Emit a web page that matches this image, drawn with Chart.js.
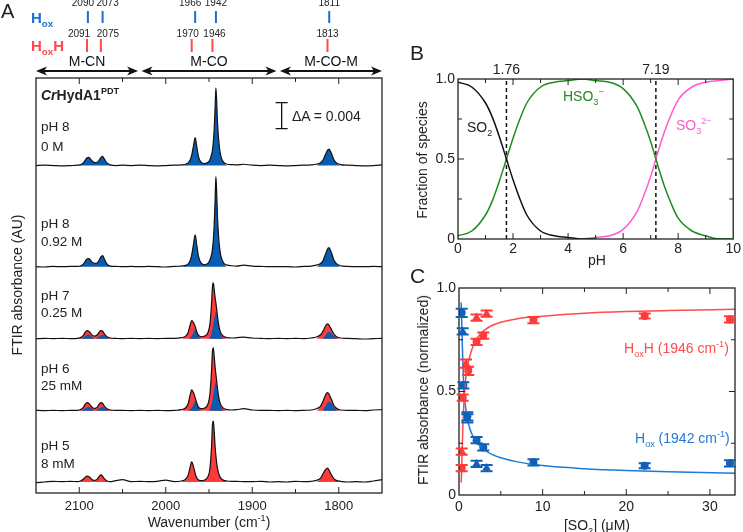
<!DOCTYPE html>
<html>
<head>
<meta charset="utf-8">
<script src="https://cdn.jsdelivr.net/npm/chart.js@4.4.0/dist/chart.umd.min.js"></script>
<style>
  body { margin: 0; background: #fff; width: 743px; height: 532px; position: relative; overflow: hidden;
         font-family: "Liberation Sans", Arial, sans-serif; color: #222; }
  canvas { position: absolute; }
  .lbl { position: absolute; white-space: nowrap; line-height: 1; }
  .lbl sub, .lbl sup { font-size: 65%; line-height: 0; }
  .rot { position: absolute; white-space: nowrap; line-height: 1; transform: translate(-50%, -50%) rotate(-90deg); }
</style>
</head>
<body>
<canvas id="chartA" width="392" height="532" style="left:0;top:0"></canvas>
<canvas id="chartB" width="351" height="270" style="left:392px;top:0"></canvas>
<canvas id="chartC" width="351" height="270" style="left:392px;top:262px"></canvas>

<div class="lbl" style="left:1px;top:1px;font-size:20px">A</div>
<div class="lbl" style="left:31px;top:10px;font-size:15px;font-weight:bold;color:#1a6fd0">H<sub>ox</sub></div>
<div class="lbl" style="left:31px;top:38px;font-size:15px;font-weight:bold;color:#ff4848">H<sub>ox</sub>H</div>
<div class="lbl" style="left:41px;top:88px;font-size:14px;font-weight:bold"><i>Cr</i>HydA1<sup>PDT</sup></div>
<div class="lbl" style="left:292px;top:109px;font-size:14px">ΔA = 0.004</div>
<div class="lbl" style="left:41px;top:120px;font-size:13.5px">pH 8</div>
<div class="lbl" style="left:41px;top:140px;font-size:13.5px">0 M</div>
<div class="lbl" style="left:41px;top:217px;font-size:13.5px">pH 8</div>
<div class="lbl" style="left:41px;top:235px;font-size:13.5px">0.92 M</div>
<div class="lbl" style="left:41px;top:289px;font-size:13.5px">pH 7</div>
<div class="lbl" style="left:41px;top:306px;font-size:13.5px">0.25 M</div>
<div class="lbl" style="left:41px;top:362px;font-size:13.5px">pH 6</div>
<div class="lbl" style="left:41px;top:379px;font-size:13.5px">25 mM</div>
<div class="lbl" style="left:41px;top:439px;font-size:13.5px">pH 5</div>
<div class="lbl" style="left:41px;top:457px;font-size:13.5px">8 mM</div>
<div class="rot" style="left:17px;top:285px;font-size:14px">FTIR absorbance (AU)</div>
<div class="lbl" style="left:209px;top:515px;font-size:14px;transform:translateX(-50%)">Wavenumber (cm<sup>-1</sup>)</div>

<div class="lbl" style="left:410px;top:42px;font-size:21px">B</div>
<div class="rot" style="left:422px;top:160px;font-size:14px">Fraction of species</div>
<div class="lbl" style="left:597px;top:253px;font-size:14px;transform:translateX(-50%)">pH</div>
<div class="lbl" style="left:467px;top:120px;font-size:14px">SO<sub>2</sub></div>
<div class="lbl" style="left:563px;top:89px;font-size:14px;color:#1e8c1e">HSO<sub>3</sub><sup>−</sup></div>
<div class="lbl" style="left:676px;top:118px;font-size:14px;color:#ff5ad2">SO<sub>3</sub><sup>2−</sup></div>

<div class="lbl" style="left:410px;top:265px;font-size:21px">C</div>
<div class="rot" style="left:423px;top:390px;font-size:14px">FTIR absorbance (normalized)</div>
<div class="lbl" style="left:597px;top:518px;font-size:14px;transform:translateX(-50%)">[SO<sub>2</sub>] (μM)</div>
<div class="lbl" style="left:624px;top:341px;font-size:14px;color:#ff4a4a">H<sub>ox</sub>H (1946 cm<sup>-1</sup>)</div>
<div class="lbl" style="left:635px;top:431px;font-size:14px;color:#1f7ad6">H<sub>ox</sub> (1942 cm<sup>-1</sup>)</div>

<script>
// ---------- Panel A: FTIR spectra (absorbance in mAU above each baseline) ----------
const wavenumbers = [2150, 2140, 2130, 2120, 2110, 2102, 2098, 2095, 2093, 2091, 2089, 2087, 2085, 2082,
  2079, 2077, 2075, 2073, 2071, 2068, 2064, 2058, 2050, 2040, 2030, 2020, 2010, 2000, 1990, 1982,
  1977, 1974, 1972, 1970, 1968, 1966, 1964, 1962, 1959, 1955, 1951, 1949, 1947, 1946, 1945, 1944, 1943, 1942, 1941, 1940,
  1938, 1936, 1933, 1929, 1924, 1918, 1910, 1900, 1890, 1880, 1870, 1860, 1850, 1840, 1832, 1826, 1821, 1818, 1816, 1814,
  1813, 1812, 1811, 1810, 1808, 1806, 1803, 1798, 1790, 1780, 1770, 1760, 1750];

const specPH8_0M = [0, 0.05, 0, -0.05, 0, 0.05, 0.15, 0.45, 0.85, 1.2, 1.25, 1.0, 0.7, 0.45,
  0.5, 0.8, 1.2, 1.4, 1.0, 0.4, 0.1, 0, 0.05, 0, 0.05, 0, -0.05, 0, 0.05, 0.1,
  0.2, 0.4, 0.8, 1.6, 3.0, 4.3, 2.8, 1.3, 0.5, 0.3, 0.5, 0.9, 1.7, 2.4, 3.6, 5.6, 8.8, 12.0, 9.5, 6.2,
  2.8, 1.3, 0.5, 0.2, 0.15, 0.1, 0.2, 0.05, 0, 0.05, 0, -0.05, 0, 0.05, 0.1, 0.2, 0.45, 0.9, 1.5, 2.1,
  2.35, 2.5, 2.5, 2.3, 1.7, 1.0, 0.45, 0.15, 0.05, 0, -0.05, 0, 0.1];
const specPH8_092M = [0, -0.05, 0.05, 0, 0.05, 0.05, 0.15, 0.45, 0.85, 1.2, 1.25, 1.0, 0.7, 0.5,
  0.6, 1.0, 1.5, 1.7, 1.2, 0.45, 0.1, 0.05, 0, 0.05, 0, 0.05, 0, -0.05, 0.05, 0.1,
  0.2, 0.45, 0.9, 1.8, 3.4, 4.9, 3.2, 1.5, 0.55, 0.3, 0.55, 1.0, 1.9, 2.7, 4.1, 6.4, 10.1, 13.9, 11.0, 7.1,
  3.2, 1.5, 0.55, 0.25, 0.15, 0.1, 0.25, 0.1, 0.05, 0, 0, 0, -0.05, 0.05, 0.1, 0.25, 0.5, 1.0, 1.7, 2.4,
  2.7, 2.9, 2.9, 2.65, 2.0, 1.15, 0.5, 0.15, 0.05, 0, 0, 0.05, 0];
const specPH7 = [0, 0.05, 0, 0.05, 0, 0.05, 0.2, 0.55, 1.0, 1.25, 1.15, 0.85, 0.55, 0.4,
  0.6, 1.0, 1.25, 1.15, 0.75, 0.3, 0.1, 0.05, 0, 0.05, 0, 0.05, 0, 0.05, 0.05, 0.15,
  0.4, 1.0, 2.0, 2.8, 2.5, 1.9, 1.0, 0.5, 0.3, 0.4, 1.0, 2.2, 5.5, 8.0, 8.6, 7.6, 6.4, 5.5, 4.4, 3.2,
  1.6, 0.8, 0.35, 0.15, 0.1, 0.15, 0.25, 0.1, 0.05, 0, 0.05, 0, 0.05, 0, 0.1, 0.25, 0.6, 1.2, 1.8, 2.2,
  2.3, 2.2, 2.0, 1.8, 1.3, 0.8, 0.35, 0.1, 0.05, 0, -0.05, 0, 0.05];
const specPH6 = [0.05, 0, 0.05, 0, 0.05, 0.05, 0.2, 0.55, 1.0, 1.25, 1.15, 0.8, 0.5, 0.35,
  0.55, 1.0, 1.25, 1.1, 0.7, 0.3, 0.1, 0.05, 0.05, 0, 0.05, 0, 0.05, 0, 0.05, 0.15,
  0.45, 1.1, 2.3, 3.2, 2.8, 2.0, 1.1, 0.5, 0.3, 0.4, 1.1, 2.5, 6.3, 9.2, 9.7, 8.4, 6.8, 5.6, 4.4, 3.2,
  1.6, 0.8, 0.35, 0.15, 0.1, 0.15, 0.3, 0.1, 0.05, 0.05, 0, 0.05, 0, 0.05, 0.1, 0.3, 0.7, 1.5, 2.2, 2.7,
  2.8, 2.7, 2.5, 2.2, 1.6, 0.9, 0.4, 0.1, 0.05, 0.05, 0, 0.1, 0.15];
const specPH5 = [-0.1, 0, 0.1, 0.05, 0.1, 0.05, 0.2, 0.45, 0.75, 0.9, 0.85, 0.6, 0.35, 0.25,
  0.45, 0.85, 1.1, 0.9, 0.5, 0.15, 0.05, 0.2, 0.35, 0.05, 0.1, 0.05, 0.1, 0.3, 0.05, 0.15,
  0.45, 1.1, 2.2, 3.1, 2.4, 1.3, 0.6, 0.3, 0.2, 0.3, 0.9, 2.0, 5.6, 8.8, 9.4, 7.8, 5.6, 4.0, 2.8, 2.0,
  1.0, 0.55, 0.25, 0.15, 0.1, 0.1, 0.05, 0.05, 0.1, 0, 0.05, 0, 0.1, 0.05, 0.1, 0.25, 0.6, 1.3, 1.8, 2.1,
  2.15, 2.0, 1.8, 1.5, 1.0, 0.55, 0.25, 0.1, 0, 0.05, 0, 0.15, 0.35];

// Hox component inside the mixed spectra (pH 7 and pH 6), [wavenumber, mAU]
const hoxPartPH7 = [[2098, 0], [2094, 0.3], [2091, 0.55], [2089, 0.6], [2087, 0.45], [2084, 0.15], [2081, 0],
  [2078, 0.25], [2075, 0.5], [2073, 0.6], [2071, 0.45], [2068, 0.15], [2065, 0],
  [1974, 0], [1970, 0.4], [1968, 0.9], [1966, 1.4], [1964, 0.8], [1962, 0.3], [1959, 0],
  [1950, 0], [1946, 1.5], [1944, 3.0], [1942, 4.2], [1940, 2.8], [1938, 1.3], [1935, 0.3], [1932, 0],
  [1819, 0], [1816, 0.4], [1813, 0.9], [1811, 1.1], [1809, 0.9], [1806, 0.45], [1802, 0]];
const hoxPartPH6 = [[2098, 0], [2094, 0.3], [2091, 0.5], [2089, 0.55], [2087, 0.4], [2084, 0.15], [2081, 0],
  [2078, 0.25], [2075, 0.5], [2073, 0.55], [2071, 0.4], [2068, 0.15], [2065, 0],
  [1974, 0], [1970, 0.4], [1968, 0.9], [1966, 1.5], [1964, 0.9], [1962, 0.35], [1959, 0],
  [1950, 0], [1946, 1.6], [1944, 3.4], [1942, 4.5], [1940, 3.0], [1938, 1.4], [1935, 0.3], [1932, 0],
  [1819, 0], [1816, 0.6], [1813, 1.2], [1811, 1.5], [1809, 1.2], [1806, 0.6], [1802, 0]];

const peakWindows = [[2099, 2082], [2082, 2064], [1978, 1957], [1956, 1930], [1823, 1801]];
const hoxBands = [2090, 2073, 1966, 1942, 1811];
const hoxhBands = [2091, 2075, 1970, 1946, 1813];
const bandGroups = [["M-CN", 2150, 2032], ["M-CO", 2028, 1872], ["M-CO-M", 1868, 1750]];

// ---------- Panel B: sulfite speciation ----------
const pKa = [1.76, 7.19];
const pHso2 = [0, 0.5, 1, 1.25, 1.5, 1.76, 2, 2.25, 2.5, 3, 3.5, 4, 4.5, 5];
const fracSO2 = [0.98, 0.95, 0.85, 0.76, 0.64, 0.5, 0.37, 0.25, 0.15, 0.05, 0.02, 0.01, 0, 0];
const pHhso3 = [0, 0.5, 1, 1.25, 1.5, 1.76, 2, 2.25, 2.5, 3, 3.5, 4, 4.5, 5, 5.5, 6, 6.5, 6.75, 7, 7.19, 7.5, 7.75, 8, 8.5, 9, 9.5, 10];
const fracHSO3 = [0.02, 0.05, 0.15, 0.24, 0.36, 0.5, 0.63, 0.75, 0.85, 0.95, 0.98, 0.99, 1.0, 0.99, 0.98, 0.94, 0.83, 0.73, 0.61, 0.5, 0.33, 0.22, 0.13, 0.05, 0.02, 0, 0];
const pHso3 = [4.5, 5, 5.5, 6, 6.5, 6.75, 7, 7.19, 7.5, 7.75, 8, 8.5, 9, 9.5, 10];
const fracSO3 = [0, 0.01, 0.02, 0.06, 0.17, 0.27, 0.39, 0.5, 0.67, 0.78, 0.87, 0.95, 0.98, 0.99, 1.0];

// ---------- Panel C: titration with SO2 ----------
const hoxhCircX = [0.32, 0.44, 1.1, 2.1, 2.9, 8.9, 22.2, 32.4];
const hoxhCircY = [0.13, 0.47, 0.60, 0.74, 0.77, 0.845, 0.865, 0.848];
const hoxhCircErr = [0.015, 0.015, 0.02, 0.015, 0.015, 0.015, 0.012, 0.015];
const hoxhTriX = [0.32, 0.84, 2.1, 3.3];
const hoxhTriY = [0.21, 0.635, 0.857, 0.876];
const hoxhTriErr = [0.015, 0.02, 0.015, 0.015];
const hoxCircX = [0.32, 0.52, 1.0, 2.1, 2.9, 8.9, 22.2, 32.4];
const hoxCircY = [0.88, 0.53, 0.38, 0.265, 0.23, 0.158, 0.141, 0.153];
const hoxCircErr = [0.02, 0.015, 0.02, 0.015, 0.015, 0.015, 0.012, 0.015];
const hoxTriX = [0.44, 1.0, 2.1, 3.3];
const hoxTriY = [0.79, 0.37, 0.15, 0.13];
const hoxTriErr = [0.015, 0.02, 0.015, 0.015];
const fitX = [0.25, 0.3, 0.4, 0.5, 0.6, 0.8, 1.0, 1.3, 1.6, 2, 2.5, 3, 4, 5, 7, 10, 15, 20, 25, 33];
const fitHoxH = [0.06, 0.1, 0.25, 0.37, 0.46, 0.56, 0.62, 0.67, 0.71, 0.745, 0.775, 0.795, 0.82, 0.835, 0.852, 0.864, 0.878, 0.886, 0.891, 0.897];
const fitHox = [0.93, 0.88, 0.72, 0.6, 0.5, 0.42, 0.37, 0.32, 0.29, 0.265, 0.24, 0.22, 0.195, 0.18, 0.16, 0.142, 0.127, 0.118, 0.112, 0.105];

const BLUE = "rgb(8,92,178)";
const RED = "rgb(255,58,58)";
const INK = "#222";
const FONT = '"Liberation Sans", Arial, sans-serif';

// draws the closed frame with inward ticks on all sides
const frameTicks = {
  id: "frameTicks",
  afterDatasetsDraw(chart, args, opts) {
    const { ctx, chartArea: a, scales } = chart;
    ctx.save();
    ctx.strokeStyle = INK;
    ctx.lineWidth = 1.3;
    ctx.strokeRect(a.left, a.top, a.width, a.height);
    ctx.lineWidth = 1;
    const xs = scales.x;
    xs.ticks.forEach((t) => {
      const px = xs.getPixelForValue(t.value);
      if (px < a.left + 2 || px > a.right - 2) return;
      const len = opts.xMajor(t.value) ? 6 : 4;
      ctx.beginPath();
      ctx.moveTo(px, a.bottom); ctx.lineTo(px, a.bottom - len);
      ctx.moveTo(px, a.top); ctx.lineTo(px, a.top + len);
      ctx.stroke();
    });
    if (opts.yTicks) {
      const ys = scales.y;
      ys.ticks.forEach((t) => {
        const py = ys.getPixelForValue(t.value);
        if (py < a.top + 2 || py > a.bottom - 2) return;
        const len = opts.yMajor(t.value) ? 6 : 4;
        ctx.beginPath();
        ctx.moveTo(a.left, py); ctx.lineTo(a.left + len, py);
        ctx.moveTo(a.right, py); ctx.lineTo(a.right - len, py);
        ctx.stroke();
      });
    }
    ctx.restore();
  },
};

// ---------- Chart A ----------
const spectra = [
  { data: specPH8_0M, base: 50.5, red: false, hox: null },
  { data: specPH8_092M, base: 34.9, red: false, hox: null },
  { data: specPH7, base: 23.8, red: true, hox: hoxPartPH7 },
  { data: specPH6, base: 12.7, red: true, hox: hoxPartPH6 },
  { data: specPH5, base: 1.7, red: true, hox: [] },
];

function inWindow(x) {
  return peakWindows.some((w) => x <= w[0] && x >= w[1]);
}

const datasetsA = [];
spectra.forEach((s) => {
  datasetsA.push({
    data: wavenumbers.map((x, j) => ({ x, y: s.base + s.data[j] })),
    borderColor: "#111", borderWidth: 1.2, pointRadius: 0, fill: false,
    cubicInterpolationMode: "monotone", order: 0,
  });
  const bandFill = wavenumbers.map((x, j) => ({ x, y: s.base + (inWindow(x) ? Math.max(s.data[j], 0) : 0) }));
  if (s.red) {
    datasetsA.push({
      data: bandFill, borderWidth: 0, pointRadius: 0, backgroundColor: RED,
      fill: { value: s.base }, cubicInterpolationMode: "monotone", order: 2,
    });
  }
  const hoxData = s.hox === null ? bandFill : s.hox.map((p) => ({ x: p[0], y: s.base + p[1] }));
  if (hoxData.length) {
    datasetsA.push({
      data: hoxData, borderWidth: 0, pointRadius: 0, backgroundColor: BLUE,
      fill: { value: s.base }, cubicInterpolationMode: "monotone", order: 1,
    });
  }
});

const annotA = {
  id: "annotA",
  afterDraw(chart) {
    const { ctx, chartArea: a, scales: { x, y } } = chart;
    ctx.save();
    ctx.lineWidth = 2;
    ctx.font = "10px " + FONT;
    ctx.fillStyle = INK;
    ctx.textAlign = "center";
    ctx.textBaseline = "middle";
    const hoxShift = [-5, 5, -5, 0, 0];
    const hoxhShift = [-8, 7, -4, 2, 0];
    hoxBands.forEach((b, i) => {
      const px = x.getPixelForValue(b);
      ctx.strokeStyle = "#1a6fd0";
      ctx.beginPath(); ctx.moveTo(px, 11); ctx.lineTo(px, 23); ctx.stroke();
      ctx.fillText(String(b), px + hoxShift[i], 3);
    });
    hoxhBands.forEach((b, i) => {
      const px = x.getPixelForValue(b);
      ctx.strokeStyle = "#ff4848";
      ctx.beginPath(); ctx.moveTo(px, 39); ctx.lineTo(px, 52); ctx.stroke();
      ctx.fillText(String(b), px + hoxhShift[i], 34);
    });
    // double arrows with group names
    ctx.font = "14px " + FONT;
    ctx.strokeStyle = "#111";
    ctx.fillStyle = "#111";
    const ay = 71;
    bandGroups.forEach(([name, from, to]) => {
      const x0 = x.getPixelForValue(from), x1 = x.getPixelForValue(to);
      ctx.lineWidth = 1.8;
      ctx.beginPath(); ctx.moveTo(x0 + 6, ay); ctx.lineTo(x1 - 6, ay); ctx.stroke();
      [[x0, 1], [x1, -1]].forEach(([xe, d]) => {
        ctx.beginPath();
        ctx.moveTo(xe, ay);
        ctx.lineTo(xe + d * 11, ay - 4.5);
        ctx.lineTo(xe + d * 8, ay);
        ctx.lineTo(xe + d * 11, ay + 4.5);
        ctx.closePath(); ctx.fill();
      });
      ctx.fillText(name, (x0 + x1) / 2, 62);
    });
    // scale bar: 4 mAU
    const bx = x.getPixelForValue(1866);
    const by0 = y.getPixelForValue(56.2), by1 = y.getPixelForValue(60.2);
    ctx.lineWidth = 1.3;
    ctx.beginPath();
    ctx.moveTo(bx, by0); ctx.lineTo(bx, by1);
    ctx.moveTo(bx - 6, by0); ctx.lineTo(bx + 6, by0);
    ctx.moveTo(bx - 6, by1); ctx.lineTo(bx + 6, by1);
    ctx.stroke();
    ctx.restore();
  },
};

new Chart(document.getElementById("chartA"), {
  type: "line",
  data: { datasets: datasetsA },
  options: {
    responsive: false, animation: false,
    layout: { padding: { left: 36, right: 10, top: 78, bottom: 0 } },
    plugins: {
      legend: { display: false }, tooltip: { enabled: false },
      frameTicks: { xMajor: (v) => v % 100 === 0, yTicks: false },
    },
    scales: {
      x: {
        type: "linear", reverse: true, min: 1750, max: 2150,
        grid: { display: false, drawTicks: false }, border: { display: false },
        ticks: { stepSize: 50, autoSkip: false, maxRotation: 0, padding: 6, color: INK,
          font: { size: 13, family: FONT }, callback: (v) => (v % 100 === 0 && v < 2150 && v > 1750 ? v : "") },
        afterFit: (s) => { s.height = 39; },
      },
      y: { display: false, min: 0, max: 64 },
    },
  },
  plugins: [frameTicks, annotA],
});

// ---------- Chart B ----------
const pKaLabels = {
  id: "pKaLabels",
  afterDraw(chart) {
    const { ctx, chartArea: a, scales: { x } } = chart;
    ctx.save();
    ctx.font = "14px " + FONT;
    ctx.fillStyle = INK;
    ctx.textAlign = "center";
    ctx.textBaseline = "middle";
    pKa.forEach((p) => ctx.fillText(p.toFixed(2), x.getPixelForValue(p), a.top - 9));
    ctx.restore();
  },
};

new Chart(document.getElementById("chartB"), {
  type: "line",
  data: {
    datasets: [
      { data: pHso2.map((x, i) => ({ x, y: fracSO2[i] })), borderColor: "#111", borderWidth: 1.5,
        pointRadius: 0, cubicInterpolationMode: "monotone" },
      { data: pHhso3.map((x, i) => ({ x, y: fracHSO3[i] })), borderColor: "#1e8c1e", borderWidth: 1.5,
        pointRadius: 0, cubicInterpolationMode: "monotone" },
      { data: pHso3.map((x, i) => ({ x, y: fracSO3[i] })), borderColor: "#ff5ad2", borderWidth: 1.5,
        pointRadius: 0, cubicInterpolationMode: "monotone" },
      ...pKa.map((p) => ({ data: [{ x: p, y: 0 }, { x: p, y: 1 }], borderColor: "#111", borderWidth: 1.5,
        borderDash: [4, 3], pointRadius: 0 })),
    ],
  },
  options: {
    responsive: false, animation: false,
    layout: { padding: { left: 0, right: 8, top: 79, bottom: 0 } },
    plugins: {
      legend: { display: false }, tooltip: { enabled: false },
      frameTicks: { xMajor: (v) => v % 2 === 0, yTicks: true, yMajor: (v) => v === 0.5 },
    },
    scales: {
      x: {
        type: "linear", min: 0, max: 10,
        grid: { display: false, drawTicks: false }, border: { display: false },
        ticks: { stepSize: 1, autoSkip: false, maxRotation: 0, padding: 2, color: INK,
          font: { size: 14, family: FONT }, callback: (v) => (v % 2 === 0 ? v : "") },
        afterFit: (s) => { s.height = 31; },
      },
      y: {
        min: 0, max: 1,
        grid: { display: false, drawTicks: false }, border: { display: false },
        ticks: { stepSize: 0.25, autoSkip: false, padding: 3, color: INK, font: { size: 14, family: FONT },
          callback: (v) => (v === 0 ? "0" : v === 0.5 ? "0.5" : v === 1 ? "1.0" : "") },
        afterFit: (s) => { s.width = 66; },
      },
    },
  },
  plugins: [frameTicks, pKaLabels],
});

// ---------- Chart C ----------
const errorBars = {
  id: "errorBars",
  afterDatasetsDraw(chart) {
    const { ctx, scales: { y } } = chart;
    ctx.save();
    ctx.lineWidth = 2;
    chart.data.datasets.forEach((ds, i) => {
      if (!ds.errors) return;
      ctx.strokeStyle = ds.backgroundColor;
      chart.getDatasetMeta(i).data.forEach((pt, j) => {
        const e = ds.errors[j];
        const yTop = y.getPixelForValue(ds.data[j].y + e);
        const yBot = y.getPixelForValue(ds.data[j].y - e);
        ctx.beginPath();
        ctx.moveTo(pt.x, yTop); ctx.lineTo(pt.x, yBot);
        ctx.moveTo(pt.x - 6, yTop); ctx.lineTo(pt.x + 6, yTop);
        ctx.moveTo(pt.x - 6, yBot); ctx.lineTo(pt.x + 6, yBot);
        ctx.stroke();
      });
    });
    ctx.restore();
  },
};

function markerSet(xs, ys, errs, color, style) {
  return {
    type: "scatter", data: xs.map((x, i) => ({ x, y: ys[i] })), errors: errs,
    pointStyle: style, pointRadius: style === "triangle" ? 5 : 4, backgroundColor: color,
    borderColor: color, borderWidth: 0, showLine: false,
  };
}

new Chart(document.getElementById("chartC"), {
  type: "line",
  data: {
    datasets: [
      { data: fitX.map((x, i) => ({ x, y: fitHoxH[i] })), borderColor: "#ff4a4a", borderWidth: 1.5,
        pointRadius: 0, cubicInterpolationMode: "monotone" },
      { data: fitX.map((x, i) => ({ x, y: fitHox[i] })), borderColor: "#1f7ad6", borderWidth: 1.5,
        pointRadius: 0, cubicInterpolationMode: "monotone" },
      markerSet(hoxhCircX, hoxhCircY, hoxhCircErr, RED, "circle"),
      markerSet(hoxhTriX, hoxhTriY, hoxhTriErr, RED, "triangle"),
      markerSet(hoxCircX, hoxCircY, hoxCircErr, "rgb(16,96,184)", "circle"),
      markerSet(hoxTriX, hoxTriY, hoxTriErr, "rgb(16,96,184)", "triangle"),
    ],
  },
  options: {
    responsive: false, animation: false,
    layout: { padding: { left: 0, right: 8, top: 26, bottom: 0 } },
    plugins: {
      legend: { display: false }, tooltip: { enabled: false },
      frameTicks: { xMajor: (v) => v % 10 === 0, yTicks: true, yMajor: (v) => v === 0.5 },
    },
    scales: {
      x: {
        type: "linear", min: 0, max: 33,
        grid: { display: false, drawTicks: false }, border: { display: false },
        ticks: { stepSize: 5, autoSkip: false, maxRotation: 0, padding: 4, color: INK,
          font: { size: 14, family: FONT }, callback: (v) => (v % 10 === 0 ? v : "") },
        afterFit: (s) => { s.height = 37; },
      },
      y: {
        min: 0, max: 1,
        grid: { display: false, drawTicks: false }, border: { display: false },
        ticks: { stepSize: 0.25, autoSkip: false, padding: 3, color: INK, font: { size: 14, family: FONT },
          callback: (v) => (v === 0 ? "0" : v === 0.5 ? "0.5" : v === 1 ? "1.0" : "") },
        afterFit: (s) => { s.width = 67; },
      },
    },
  },
  plugins: [frameTicks, errorBars],
});
</script>
</body>
</html>
